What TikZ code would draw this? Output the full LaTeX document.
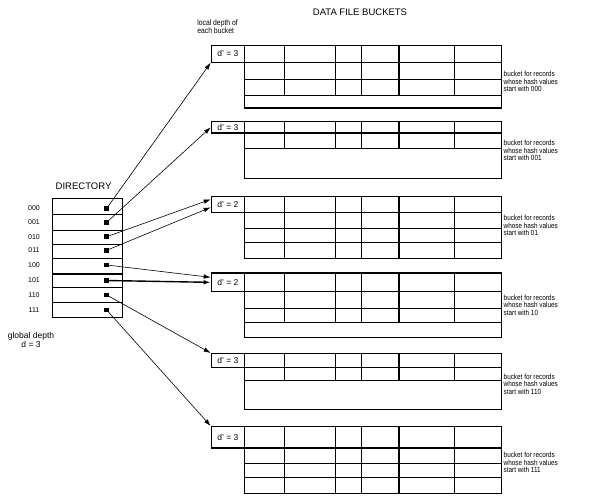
\documentclass[tikz,border=0pt]{standalone}
\usepackage{fontspec}
\setmainfont{Liberation Sans}
\newfontfamily\narrowfont{Liberation Sans}[FakeStretch=0.85]
\usetikzlibrary{positioning, arrows.meta, calc}

% column lines of one bucket, between two heights
\newcommand{\bucketcols}[2]{%
  \foreach \cx in {284.3,335.3,361.3,454.3} {\draw[grid] (\cx,#1) -- (\cx,#2);}
  \draw[heavy] (398.7,#1) -- (398.7,#2);
}

\begin{document}
\begin{tikzpicture}[
    x=1pt, y=-1pt,
    grid/.style={line width=0.7pt},
    heavy/.style={line width=1.6pt},
    depthbox/.style={rectangle, draw, line width=0.7pt, minimum width=33.6pt, inner sep=0pt, anchor=north west, font=\fontsize{8.5}{9}\selectfont},
    dot/.style={rectangle, fill, inner sep=0pt, minimum size=4.5pt},
    ptr/.style={-{Latex[length=7pt,width=4.5pt]}, line width=0.6pt},
    note/.style={font=\narrowfont\fontsize{7.5}{7.5}\selectfont, align=left, anchor=west, inner sep=0pt},
    bits/.style={font=\fontsize{7}{8}\selectfont, inner sep=0pt},
]
\useasboundingbox (0,0) rectangle (589,498);

\node[font=\fontsize{9.5}{11}\selectfont] (title) at (360,12) {DATA FILE BUCKETS};
\node[font=\narrowfont\fontsize{8}{8}\selectfont, align=left, anchor=north east, inner sep=0pt] (local) at (238,20) {local depth of\\each bucket};

% bucket 000
\node[depthbox, minimum height=17pt] (d1) at (210.7,45) {d' = 3};
\draw[grid] (244.3,45) rectangle (501.7,108);
\foreach \ry in {62,79,95} {\draw[grid] (244.3,\ry) -- (501.7,\ry);}
\bucketcols{45}{95}
\draw[heavy] (244.3,108) -- (501.7,108);
\node[note] (n1) at (503.5,81.7) {bucket for records\\whose hash values\\start with 000};

% bucket 001
\node[depthbox, minimum height=12pt] (d2) at (210.7,121) {d' = 3};
\draw[grid] (244.3,121) rectangle (501.7,178);
\draw[heavy] (210.7,133) -- (501.7,133);
\draw[grid] (244.3,148) -- (501.7,148);
\bucketcols{121}{148}
\node[note] (n2) at (503.5,150.7) {bucket for records\\whose hash values\\start with 001};

% bucket 01
\node[depthbox, minimum height=16pt] (d3) at (210.7,196) {d' = 2};
\draw[grid] (244.3,196) rectangle (501.7,258);
\foreach \ry in {212,228,242} {\draw[grid] (244.3,\ry) -- (501.7,\ry);}
\bucketcols{196}{258}
\node[note] (n3) at (503.5,225.7) {bucket for records\\whose hash values\\start with 01};

% bucket 10
\node[depthbox, minimum height=18pt] (d4) at (210.7,273) {d' = 2};
\draw[grid] (244.3,273) rectangle (501.7,337);
\draw[heavy] (210.7,273) -- (501.7,273);
\foreach \ry in {291,308,322} {\draw[grid] (244.3,\ry) -- (501.7,\ry);}
\bucketcols{273}{322}
\node[note] (n4) at (503.5,305) {bucket for records\\whose hash values\\start with 10};

% bucket 110
\node[depthbox, minimum height=14pt] (d5) at (210.7,353) {d' = 3};
\draw[grid] (244.3,353) rectangle (501.7,409);
\foreach \ry in {367,380} {\draw[grid] (244.3,\ry) -- (501.7,\ry);}
\bucketcols{353}{380}
\node[note] (n5) at (503.5,384.3) {bucket for records\\whose hash values\\start with 110};

% bucket 111
\node[depthbox, minimum height=22pt] (d6) at (210.7,426) {d' = 3};
\draw[grid] (244.3,426) rectangle (501.7,493);
\draw[heavy] (210.7,448) -- (501.7,448);
\foreach \ry in {463,477} {\draw[grid] (244.3,\ry) -- (501.7,\ry);}
\bucketcols{426}{493}
\node[note] (n6) at (503.5,462.7) {bucket for records\\whose hash values\\start with 111};

% directory
\node[draw, line width=0.7pt, minimum width=70pt, minimum height=118.7pt, inner sep=0pt, anchor=north west] (dir) at (51.7,198.3) {};
\node[font=\fontsize{9.5}{11}\selectfont, above=9pt of dir.north, xshift=-3.5pt, inner sep=0pt] (dirtitle) {DIRECTORY};
\draw[heavy] (dir.north west) -- (dir.north east);
\foreach \ry in {214.3,230,244,258.3,287.7,302.3} {\draw[grid] (51.7,\ry) -- (121.7,\ry);}
\draw[heavy] (51.7,274) -- (121.7,274);
\foreach \b/\ry in {000/208.3,001/222.3,010/236.7,011/250.3,100/265,101/280.5,110/295,111/310} {
  \node[dot] (p\b) at (106.7,\ry) {};
  \node[bits] (b\b) at (34,\ry) {\b};
}
\node[font=\fontsize{8.5}{9}\selectfont, align=center, inner sep=0pt] (global) at (31,339.5) {global depth\\d = 3};

% pointers
\draw[ptr] (p000.center) -- (d1.south west);
\draw[ptr] (p001.center) -- (d2.west);
\draw[ptr] (p010.center) -- ($(d3.west)+(0,-5)$);
\draw[ptr] (p011.center) -- ($(d3.west)+(0,3)$);
\draw[ptr] (p100.center) -- ($(d4.west)+(0,-5)$);
\draw[ptr, line width=1.4pt] (p101.center) -- (d4.west);
\draw[ptr] (p110.center) -- (d5.north west);
\draw[ptr] (p111.center) -- (d6.north west);

\end{tikzpicture}
\end{document}
